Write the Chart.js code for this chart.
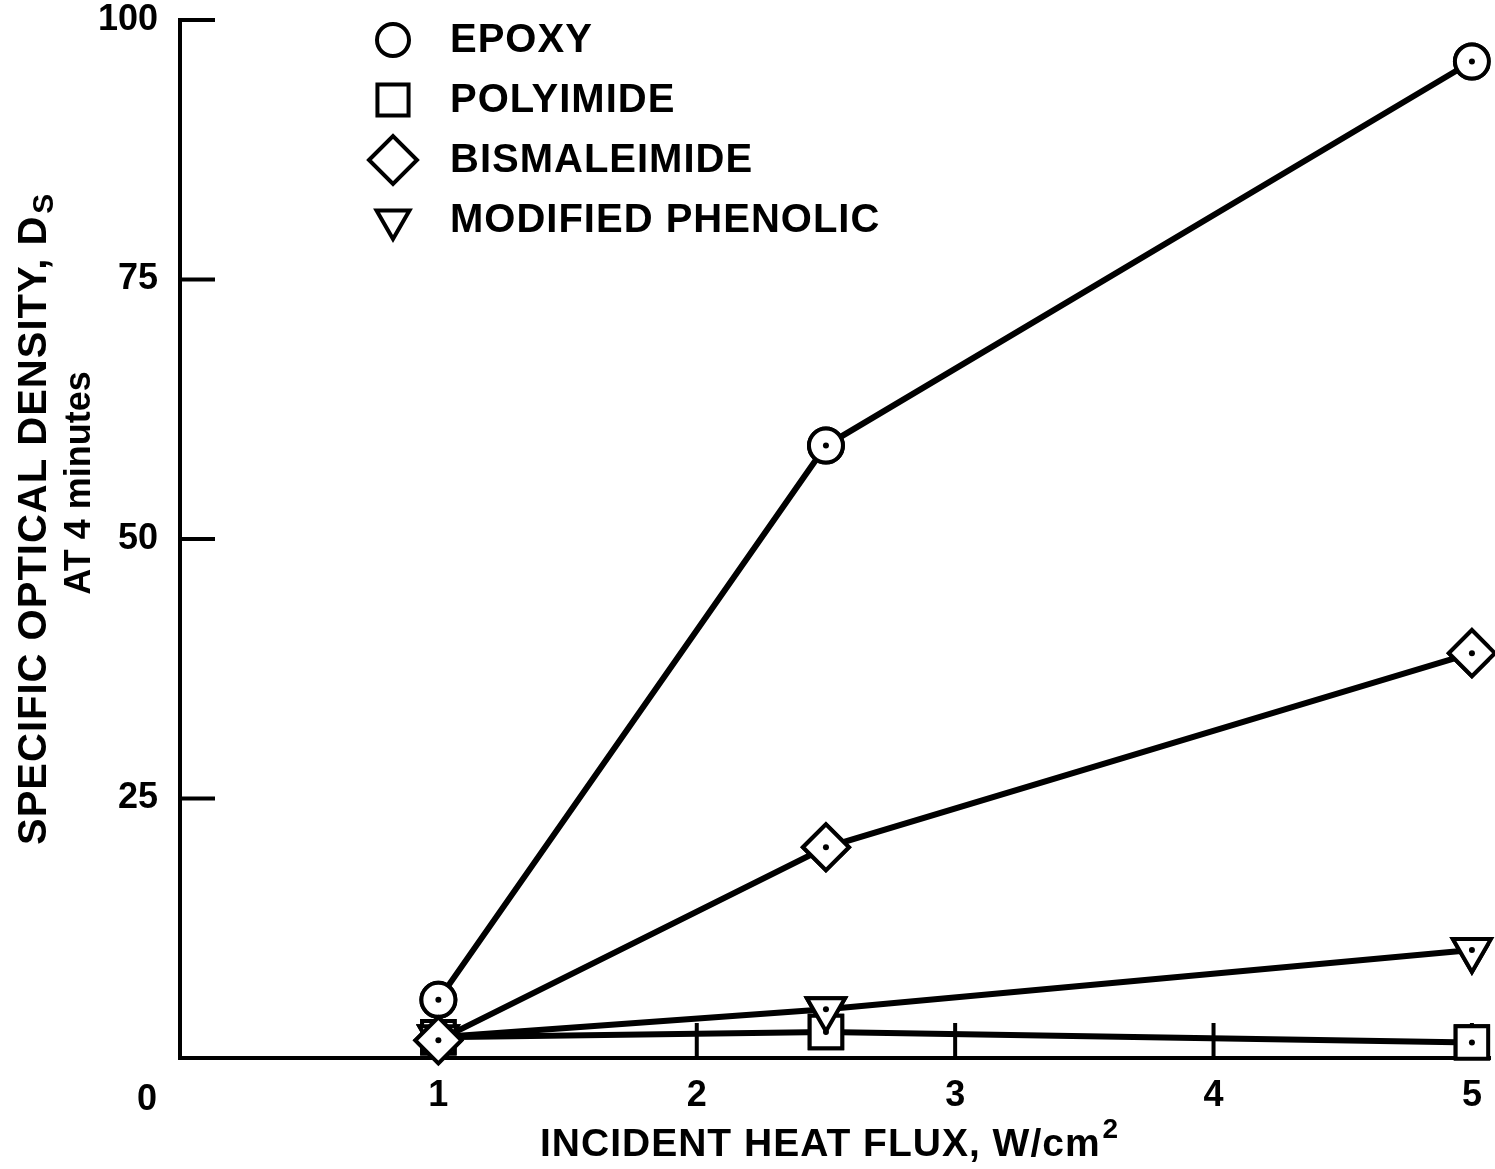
<!DOCTYPE html>
<html>
<head>
<meta charset="utf-8">
<script src="https://cdn.jsdelivr.net/npm/chart.js@4.4.1/dist/chart.umd.min.js"></script>
<style>
  html, body { margin: 0; padding: 0; background: #fff; }
  #wrap { width: 1495px; height: 1169px; }
</style>
</head>
<body>
<div id="wrap"><canvas id="chart" width="1495" height="1169"></canvas></div>
<script>
// データ
const heatFlux = [1, 2.5, 5];
const epoxy = [5.6, 59, 96];
const polyimide = [2.0, 2.5, 1.5];
const bismaleimide = [1.7, 20.3, 39];
const modifiedPhenolic = [2.0, 4.7, 10.4];
const xTickValues = [1, 2, 3, 4, 5];
const yTickValues = [25, 50, 75, 100];

const FONT = '"Liberation Sans", Arial, sans-serif';
const INK = '#000';

function toPoints(ys) {
    return heatFlux.map((x, i) => ({ x: x, y: ys[i] }));
}

function series(label, ys, style, radius, legendRadius, rotation) {
    return {
        label: label,
        data: toPoints(ys),
        borderColor: INK,
        borderWidth: 6,
        backgroundColor: '#fff',
        pointStyle: style,
        pointRadius: radius,
        pointRotation: rotation || 0,
        pointBorderWidth: 4,
        pointBorderColor: INK,
        pointBackgroundColor: '#fff',
        legendRadius: legendRadius,
        tension: 0
    };
}

// 目盛り（内向き）、中心の点、凡例、軸タイトル
const decorations = {
    id: 'decorations',
    afterDatasetsDraw(chart) {
        const ctx = chart.ctx;
        const xs = chart.scales.x;
        const ys = chart.scales.y;
        const area = chart.chartArea;

        ctx.save();
        ctx.strokeStyle = INK;
        ctx.lineWidth = 4;
        yTickValues.forEach(v => {
            const py = ys.getPixelForValue(v);
            ctx.beginPath();
            ctx.moveTo(area.left, py);
            ctx.lineTo(area.left + 35, py);
            ctx.stroke();
        });
        xTickValues.forEach(v => {
            const px = xs.getPixelForValue(v);
            ctx.beginPath();
            ctx.moveTo(px, area.bottom);
            ctx.lineTo(px, area.bottom - 35);
            ctx.stroke();
        });

        // 点を再描画して目盛りの上に（菱形を最前面）
        [1, 3, 0, 2].forEach(i => {
            chart.getDatasetMeta(i).data.forEach(pt => pt.draw(ctx, area));
        });

        // 中心の点
        ctx.fillStyle = INK;
        [1, 3, 0, 2].forEach(i => {
            chart.getDatasetMeta(i).data.forEach((pt, j) => {
                if (heatFlux[j] === 1 && (i === 1 || i === 3)) return;
                ctx.beginPath();
                ctx.arc(pt.x, pt.y, 3, 0, Math.PI * 2);
                ctx.fill();
            });
        });

        // 凡例
        ctx.textBaseline = 'middle';
        ctx.textAlign = 'left';
        chart.data.datasets.forEach((ds, i) => {
            const ly = 40 + i * 60;
            ctx.fillStyle = '#fff';
            ctx.strokeStyle = INK;
            ctx.lineWidth = 4;
            Chart.helpers.drawPoint(ctx, {
                pointStyle: ds.pointStyle,
                rotation: ds.pointRotation,
                radius: ds.legendRadius,
                borderWidth: 4
            }, 393, ly);
            ctx.fillStyle = INK;
            ctx.font = 'bold 40px ' + FONT;
            ctx.letterSpacing = '1px';
            ctx.fillText(ds.label, 450, ly + 1);
            ctx.letterSpacing = '0px';
        });

        // 原点の "0"
        ctx.fillStyle = INK;
        ctx.font = 'bold 36px ' + FONT;
        ctx.textAlign = 'center';
        ctx.fillText('0', 147, 1100);

        // x軸タイトル
        ctx.font = 'bold 39px ' + FONT;
        ctx.textAlign = 'left';
        ctx.letterSpacing = '1px';
        const xt = 'INCIDENT HEAT FLUX, W/cm';
        const xw = ctx.measureText(xt).width;
        ctx.fillText(xt, 540, 1145);
        ctx.letterSpacing = '0px';
        ctx.font = 'bold 28px ' + FONT;
        ctx.fillText('2', 540 + xw + 2, 1130);

        // y軸タイトル
        ctx.save();
        ctx.translate(35, 845);
        ctx.rotate(-Math.PI / 2);
        ctx.font = 'bold 40px ' + FONT;
        ctx.textAlign = 'left';
        ctx.letterSpacing = '1px';
        const yt = 'SPECIFIC OPTICAL DENSITY, D';
        const yw = ctx.measureText(yt).width;
        ctx.fillText(yt, 0, 0);
        ctx.letterSpacing = '0px';
        ctx.font = 'bold 30px ' + FONT;
        ctx.fillText('S', yw + 2, 10);
        ctx.restore();

        ctx.save();
        ctx.translate(80, 483);
        ctx.rotate(-Math.PI / 2);
        ctx.font = 'bold 36px ' + FONT;
        ctx.textAlign = 'center';
        ctx.fillText('AT 4 minutes', 0, 0);
        ctx.restore();

        ctx.restore();
    }
};

new Chart(document.getElementById('chart'), {
    type: 'line',
    data: {
        datasets: [
            series('EPOXY', epoxy, 'circle', 17, 16),
            series('POLYIMIDE', polyimide, 'rect', 23, 22),
            series('BISMALEIMIDE', bismaleimide, 'rectRot', 23, 24),
            series('MODIFIED PHENOLIC', modifiedPhenolic, 'triangle', 22, 19, 180)
        ]
    },
    options: {
        responsive: false,
        animation: false,
        layout: { autoPadding: false, padding: { top: 20, right: 5, left: 0, bottom: 0 } },
        plugins: {
            legend: { display: false },
            tooltip: { enabled: false }
        },
        scales: {
            x: {
                type: 'linear',
                min: 0,
                max: 5.07,
                afterBuildTicks: scale => { scale.ticks = xTickValues.map(v => ({ value: v })); },
                afterFit: scale => {
                    scale.height = 111;
                    scale.paddingLeft = 0;
                    scale.paddingRight = 0;
                },
                grid: { display: false, drawTicks: false },
                border: { display: true, color: INK, width: 4 },
                ticks: {
                    color: INK,
                    padding: 16,
                    maxRotation: 0,
                    font: { family: FONT, size: 36, weight: 'bold' }
                }
            },
            y: {
                min: 0,
                max: 100,
                afterBuildTicks: scale => { scale.ticks = yTickValues.map(v => ({ value: v })); },
                afterFit: scale => {
                    scale.width = 180;
                    scale.paddingTop = 0;
                    scale.paddingBottom = 0;
                },
                grid: { display: false, drawTicks: false },
                border: { display: true, color: INK, width: 4 },
                ticks: {
                    color: INK,
                    padding: 22,
                    font: { family: FONT, size: 36, weight: 'bold' }
                }
            }
        }
    },
    plugins: [decorations]
});
</script>
</body>
</html>
